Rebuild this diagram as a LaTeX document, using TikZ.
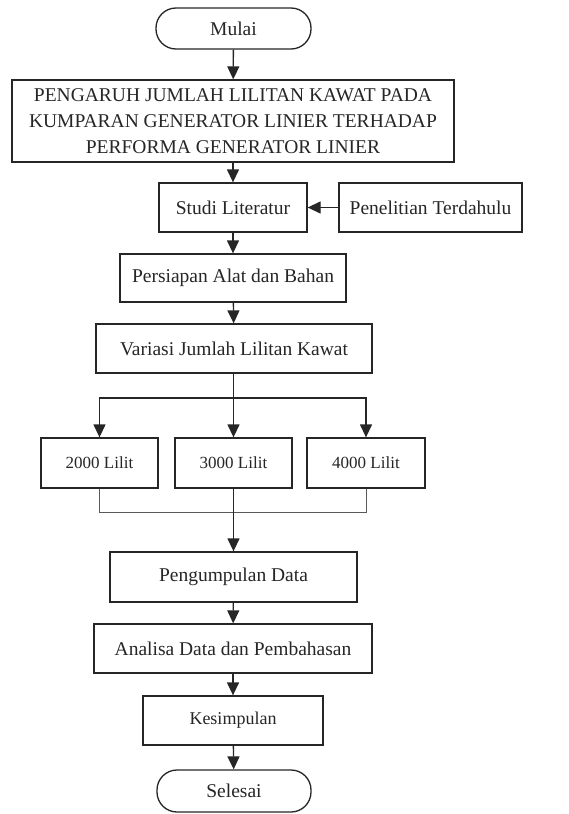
\documentclass[tikz,border=0pt]{standalone}
\usepackage{fontspec}
\setmainfont{Liberation Serif}
\usetikzlibrary{arrows.meta}
\begin{document}
\begin{tikzpicture}[x=1pt,y=-1pt,
  box/.style={draw=black!85,line width=1.3pt,fill=white,inner sep=0pt,align=center,
    font=\fontsize{19.5}{26}\selectfont,text=black!85},
  term/.style={box,rounded corners=20pt},
  small/.style={box,font=\fontsize{17}{20}\selectfont},
  arr/.style={draw=black!85,line width=1.3pt,-{Triangle[width=12pt,length=13pt]}},
  ln/.style={draw=black!85,line width=1.3pt},
  thin/.style={draw=black!65,line width=0.9pt}]
\useasboundingbox (0,0) rectangle (569,814);
\node[term,minimum width=155pt,minimum height=41pt] (mulai) at (233.5,28.5) {Mulai};
\node[box,minimum width=442pt,minimum height=82pt] (judul) at (233,121)
  {PENGARUH JUMLAH LILITAN KAWAT PADA\\KUMPARAN GENERATOR LINIER TERHADAP\\PERFORMA GENERATOR LINIER};
\node[box,minimum width=148pt,minimum height=49pt] (studi) at (233,207.5) {Studi Literatur};
\node[box,minimum width=183pt,minimum height=49pt] (pen) at (430.5,207.5) {Penelitian Terdahulu};
\node[box,minimum width=226pt,minimum height=48pt] (pers) at (233,278) {Persiapan Alat dan Bahan};
\node[box,minimum width=276pt,minimum height=49pt] (var) at (234,348.5) {Variasi Jumlah Lilitan Kawat};
\node[small,minimum width=117pt,minimum height=50pt] (l2) at (99.5,463) {2000 Lilit};
\node[small,minimum width=117pt,minimum height=50pt] (l3) at (233.5,463) {3000 Lilit};
\node[small,minimum width=118pt,minimum height=50pt] (l4) at (366,463) {4000 Lilit};
\node[box,minimum width=247pt,minimum height=50pt] (kump) at (233.5,577) {Pengumpulan Data};
\node[box,minimum width=278pt,minimum height=49pt] (anal) at (233,648.5) {Analisa Data dan Pembahasan};
\node[box,minimum width=180pt,minimum height=49pt,font=\fontsize{18}{22}\selectfont] (kes) at (233,720.5) {Kesimpulan};
\node[term,minimum width=154pt,minimum height=42pt] (selesai) at (234,791) {Selesai};
\coordinate (sp) at (233.5,398);
\coordinate (jn) at (233.5,512);
\draw[arr] (mulai) -- (judul);
\draw[arr] (judul) -- (studi);
\draw[arr] (pen) -- (studi);
\draw[arr] (studi) -- (pers);
\draw[arr] (pers) -- (var);
\draw[ln] (var.south -| sp) -- (sp);
\draw[arr] (sp) -| (l2);
\draw[arr] (sp) -- (l3);
\draw[arr] (sp) -| (l4);
\draw[thin] (l2) |- (jn);
\draw[thin] (l4) |- (jn);
\draw[arr] (l3) -- (kump);
\draw[arr] (kump) -- (anal);
\draw[arr] (anal) -- (kes);
\draw[arr] (kes) -- (selesai);
\end{tikzpicture}
\end{document}
